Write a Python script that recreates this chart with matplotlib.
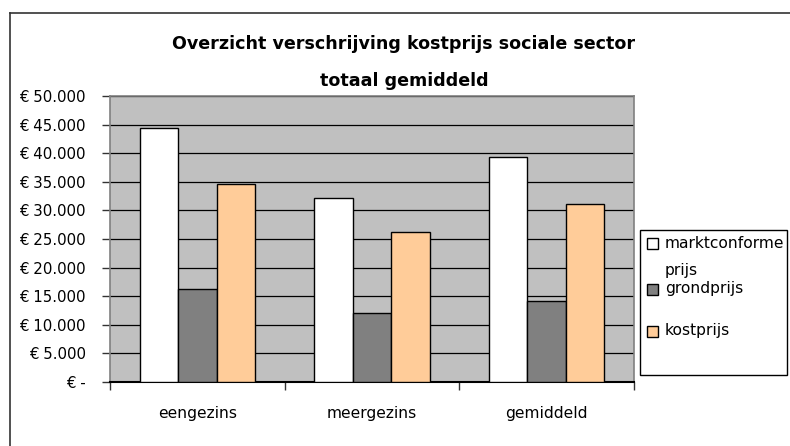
import matplotlib
matplotlib.use("Agg")
import matplotlib.pyplot as plt
from matplotlib.patches import Rectangle
from matplotlib.lines import Line2D
import numpy as np

# data (euro)
categories = ["eengezins", "meergezins", "gemiddeld"]
series_names = ["marktconforme prijs", "grondprijs", "kostprijs"]
marktconforme = [44400, 32200, 39400]
grondprijs = [16300, 12000, 14200]
kostprijs = [34700, 26300, 31100]
y_ticks = [0, 5000, 10000, 15000, 20000, 25000, 30000, 35000, 40000, 45000, 50000]
y_tick_labels = ["€ -", "€ 5.000", "€ 10.000", "€ 15.000", "€ 20.000", "€ 25.000",
                 "€ 30.000", "€ 35.000", "€ 40.000", "€ 45.000", "€ 50.000"]
title = "Overzicht verschrijving kostprijs sociale sector\ntotaal gemiddeld"

colors = ["#FFFFFF", "#808080", "#FFCC99"]
W, H = 790, 446
FONT = "DejaVu Sans"
plt.rcParams['font.family'] = [FONT]

fig = plt.figure(figsize=(W / 100, H / 100), dpi=100)
fig.patch.set_facecolor("white")

def fx(px):
    return px / W

def fy(py):
    return 1 - py / H

# outer chart border (runs off the right and bottom of the picture)
fig.add_artist(Line2D([fx(10), fx(10)], [fy(13), 0], color="#333333", lw=1.2,
                      transform=fig.transFigure))
fig.add_artist(Line2D([fx(10), 1], [fy(13), fy(13)], color="#333333", lw=1.2,
                      transform=fig.transFigure))

ax = fig.add_axes([fx(110), fy(382), fx(634) - fx(110), (382 - 96) / H])
ax.set_facecolor("#C0C0C0")

x = np.arange(len(categories))
bw = 0.22
all_series = [marktconforme, grondprijs, kostprijs]
for i, vals in enumerate(all_series):
    ax.bar(x + (i - 1) * bw, vals, bw, color=colors[i], edgecolor="black",
           linewidth=1.0, zorder=3)

ax.set_xlim(-0.5, len(categories) - 0.5)
ax.set_ylim(0, 50000)
ax.set_yticks(y_ticks)
ax.set_yticklabels(y_tick_labels, fontsize=10.8)
ax.yaxis.grid(True, color="black", lw=0.9, zorder=1)
ax.set_axisbelow(True)

ax.set_xticks(x)
ax.set_xticklabels(categories, fontsize=11.2)
ax.tick_params(axis="x", length=0, pad=17.5)
# category boundary ticks
ax.set_xticks(np.arange(len(categories) + 1) - 0.5, minor=True)
ax.tick_params(axis="x", which="minor", length=6, width=1, color="#333333", direction="out")
ax.tick_params(axis="y", length=6, width=1, color="#333333", direction="out", pad=11.5)

for side in ["top", "right", "left"]:
    ax.spines[side].set_color("#808080")
    ax.spines[side].set_linewidth(1.2)
ax.spines["bottom"].set_color("black")
ax.spines["bottom"].set_linewidth(1.5)

fig.text(fx(404), fy(62.5), title, ha="center", va="center", fontsize=12.6,
         fontweight="bold", linespacing=2.4)

# legend box
fig.add_artist(Rectangle((fx(640), fy(375)), fx(787) - fx(640), (375 - 230) / H,
                         facecolor="white", edgecolor="black", lw=1.0,
                         transform=fig.transFigure))
entry_y = [243.5, 289, 331]
for i, name in enumerate(series_names):
    yc = entry_y[i]
    fig.add_artist(Rectangle((fx(647), fy(yc + 5.5)), fx(11), 11 / H,
                             facecolor=colors[i], edgecolor="black", lw=1.0,
                             transform=fig.transFigure))
    words = name.split(" ")
    fig.text(fx(665), fy(yc), words[0], ha="left", va="center", fontsize=11.2)
    if len(words) > 1:
        fig.text(fx(665), fy(yc + 26.5), " ".join(words[1:]), ha="left",
                 va="center", fontsize=11.2)

fig.savefig("out.png", dpi=100)
